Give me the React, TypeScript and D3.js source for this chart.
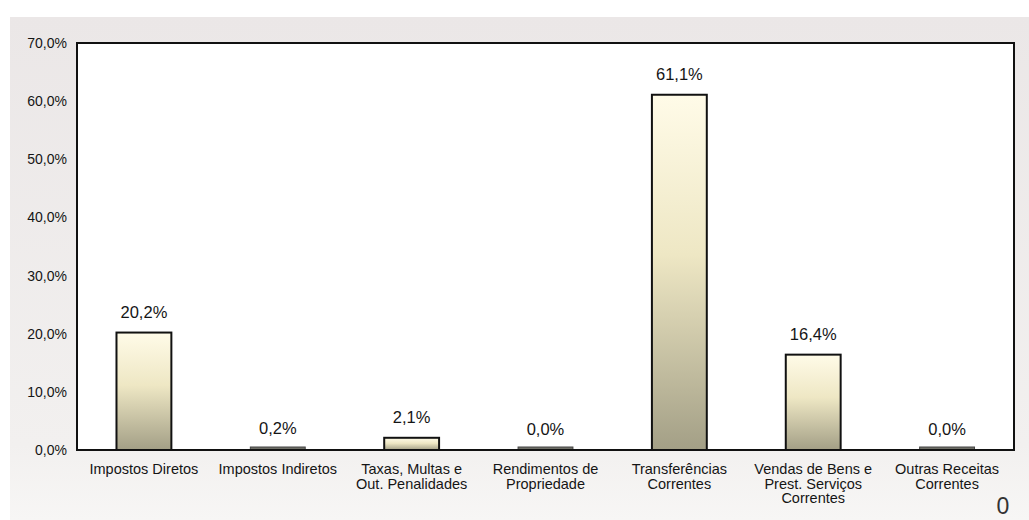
import React from "react";
import * as d3 from "d3";

const categories: string[][] = [
  ["Impostos Diretos"],
  ["Impostos Indiretos"],
  ["Taxas, Multas e", "Out. Penalidades"],
  ["Rendimentos de", "Propriedade"],
  ["Transferências", "Correntes"],
  ["Vendas de Bens e", "Prest. Serviços", "Correntes"],
  ["Outras Receitas", "Correntes"],
];
const values: number[] = [20.2, 0.2, 2.1, 0.0, 61.1, 16.4, 0.0];
const yTicks: number[] = [0, 10, 20, 30, 40, 50, 60, 70];

const W = 1029;
const H = 520;
const left = 77;
const right = 1014;
const top = 43;
const bottom = 450;

const fmt = (v: number) => v.toFixed(1).replace(".", ",") + "%";

export default function App() {
  const x = d3
    .scaleBand<number>()
    .domain(values.map((_, i) => i))
    .range([left, right])
    .paddingInner(0.59)
    .paddingOuter(0.295);
  const y = d3.scaleLinear().domain([0, 70]).range([bottom, top]);
  const font = "'Liberation Sans', Arial, sans-serif";

  return (
    <svg
      width={W}
      height={H}
      style={{ position: "absolute", left: 0, top: 0, background: "#ffffff" }}
    >
      <defs>
        <linearGradient id="bg" x1="0" y1="0" x2="0" y2="1">
          <stop offset="0" stopColor="#ebe7e7" />
          <stop offset="0.85" stopColor="#f2f0ef" />
          <stop offset="1" stopColor="#f7f6f5" />
        </linearGradient>
        <linearGradient id="bar" x1="0" y1="0" x2="0" y2="1">
          <stop offset="0" stopColor="#fffbe8" />
          <stop offset="0.45" stopColor="#eee7c4" />
          <stop offset="1" stopColor="#a39f86" />
        </linearGradient>
      </defs>
      <rect x={10} y={17} width={W - 10} height={H - 17} fill="url(#bg)" />
      <rect
        x={left}
        y={top}
        width={right - left}
        height={bottom - top}
        fill="#ffffff"
        stroke="#111"
        strokeWidth={2}
      />
      {yTicks.map((t) => (
        <text
          key={t}
          x={67}
          y={y(t) + 5}
          textAnchor="end"
          fontFamily={font}
          fontSize={14}
          fill="#151515"
        >
          {fmt(t)}
        </text>
      ))}
      {values.map((v, i) => {
        const bx = x(i)!;
        const bw = x.bandwidth();
        const by = y(v);
        const bh = bottom - by;
        const small = v < 1;
        return (
          <g key={i}>
            <rect
              x={bx}
              y={small ? bottom - 3 : by}
              width={bw}
              height={small ? 3 : bh}
              fill={small ? "#6e6e66" : "url(#bar)"}
              stroke={small ? "#444" : "#111"}
              strokeWidth={small ? 1 : 2}
            />
            <text
              x={bx + bw / 2}
              y={by - 15}
              textAnchor="middle"
              fontFamily={font}
              fontSize={16.5}
              fill="#151515"
            >
              {fmt(v)}
            </text>
            {categories[i].map((line, j) => (
              <text
                key={j}
                x={bx + bw / 2}
                y={474 + j * 14.5}
                textAnchor="middle"
                fontFamily={font}
                fontSize={14.5}
                fill="#151515"
              >
                {line}
              </text>
            ))}
          </g>
        );
      })}
      <line x1={left} x2={right} y1={bottom} y2={bottom} stroke="#111" strokeWidth={2} />
      <text
        x={1003}
        y={514}
        textAnchor="middle"
        fontFamily={font}
        fontSize={23}
        fontWeight={300}
        fill="#333"
      >
        0
      </text>
    </svg>
  );
}
